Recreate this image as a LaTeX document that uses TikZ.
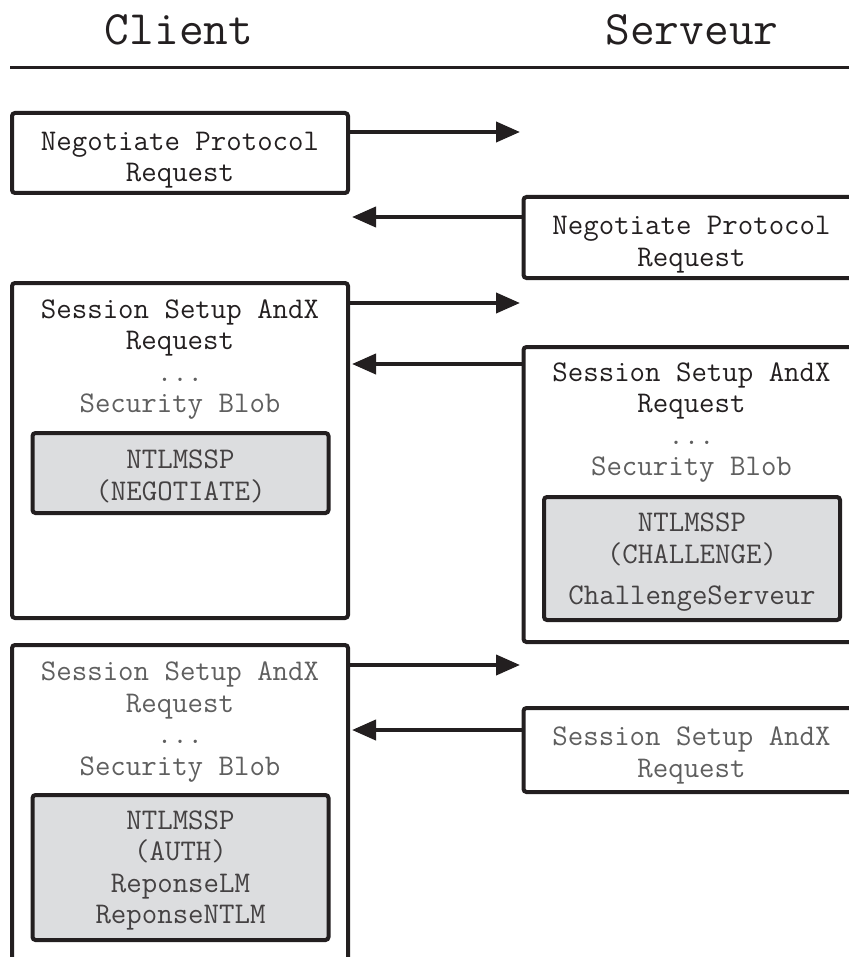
\documentclass[tikz,border=0pt]{standalone}
\usepackage{xcolor}
\usepackage{tikz}
\usetikzlibrary{arrows.meta, positioning}

\definecolor{ink}{RGB}{35,31,32}
\definecolor{softink}{RGB}{95,95,95}
\definecolor{blobfill}{RGB}{220,221,223}

\begin{document}
\begin{tikzpicture}[x=0.5pt, y=-0.5pt,
  header/.style={font=\ttfamily\fontsize{24pt}{26pt}\selectfont, text=ink},
  msgbox/.style={draw=ink, line width=2pt, rounded corners=1.5pt,
                 minimum width=168pt, inner sep=0pt},
  msgtext/.style={anchor=north, inner sep=0pt, align=center,
                  font=\ttfamily\fontsize{15pt}{15.75pt}\selectfont},
  blobbox/.style={draw=ink, line width=2pt, rounded corners=1.5pt,
                  fill=blobfill, minimum width=148pt, inner sep=0pt},
  blobtext/.style={msgtext, anchor=center, text=ink!85},
  msg/.style={-{Triangle[length=12pt, width=10pt]}, line width=2pt, draw=ink}
]
\clip (0,0) rectangle (849,957);

% en-tete
\node[header] (client) at (179,30) {Client};
\node[header] (serveur) at (692,30) {Serveur};
\draw[ink, line width=1.5pt] (10,68) -- (849,68);

% negotiate protocol
\node[msgbox, minimum height=40pt] (negreq) at (180,153) {};
\node[msgtext, anchor=center, text=ink] (negreqtxt) at (180,160)
  {Negotiate Protocol\\Request};
\node[msgbox, minimum height=40.5pt] (negrep) at (691.5,237.5) {};
\node[msgtext, anchor=center, text=ink] (negreptxt) at (691.5,244.5)
  {Negotiate Protocol\\Request};

% session setup (negotiate / challenge)
\node[msgbox, minimum height=167.5pt] (sesneg) at (180,450.5) {};
\node[msgtext, text=ink] (sesnegtxt) at (180,299)
  {Session Setup AndX\\Request\\\textcolor{softink}{...}\\\textcolor{softink}{Security Blob}};
\node[blobbox, minimum height=40pt] (blobneg) at (180.5,473) {};
\node[blobtext] (blobnegtxt) at (180.5,476.5) {NTLMSSP\\(NEGOTIATE)};

\node[msgbox, minimum height=147.5pt] (seschal) at (691.5,494.5) {};
\node[msgtext, text=ink] (seschaltxt) at (691.5,362)
  {Session Setup AndX\\Request\\\textcolor{softink}{...}\\\textcolor{softink}{Security Blob}};
\node[blobbox, minimum height=61.5pt] (blobchal) at (692,558.5) {};
\node[blobtext] (blobchaltxt) at (692,562.5)
  {NTLMSSP\\(CHALLENGE)\\[5pt]ChallengeServeur};

% session setup (auth)
\node[msgbox, minimum height=200pt] (sesauth) at (180,845) {};
\node[msgtext, text=softink] (sesauthtxt) at (180,661.5)
  {Session Setup AndX\\Request\\...\\Security Blob};
\node[blobbox, minimum height=72.5pt] (blobauth) at (180.5,867.5) {};
\node[blobtext] (blobauthtxt) at (180.5,870.5)
  {NTLMSSP\\(AUTH)\\ReponseLM\\ReponseNTLM};

\node[msgbox, minimum height=42pt] (sesok) at (691.5,750) {};
\node[msgtext, anchor=center, text=softink] (sesoktxt) at (691.5,755.5)
  {Session Setup AndX\\Request};

% fleches
\coordinate (to1) at (520,132);
\coordinate (back1) at (352,217);
\coordinate (to2) at (520,303);
\coordinate (back2) at (352,364);
\coordinate (to3) at (520,665);
\coordinate (back3) at (352,730);

\draw[msg] (negreq.east |- to1) -- (to1);
\draw[msg] (negrep.west |- back1) -- (back1);
\draw[msg] (sesneg.east |- to2) -- (to2);
\draw[msg] (seschal.west |- back2) -- (back2);
\draw[msg] (sesauth.east |- to3) -- (to3);
\draw[msg] (sesok.west |- back3) -- (back3);

\end{tikzpicture}
\end{document}
